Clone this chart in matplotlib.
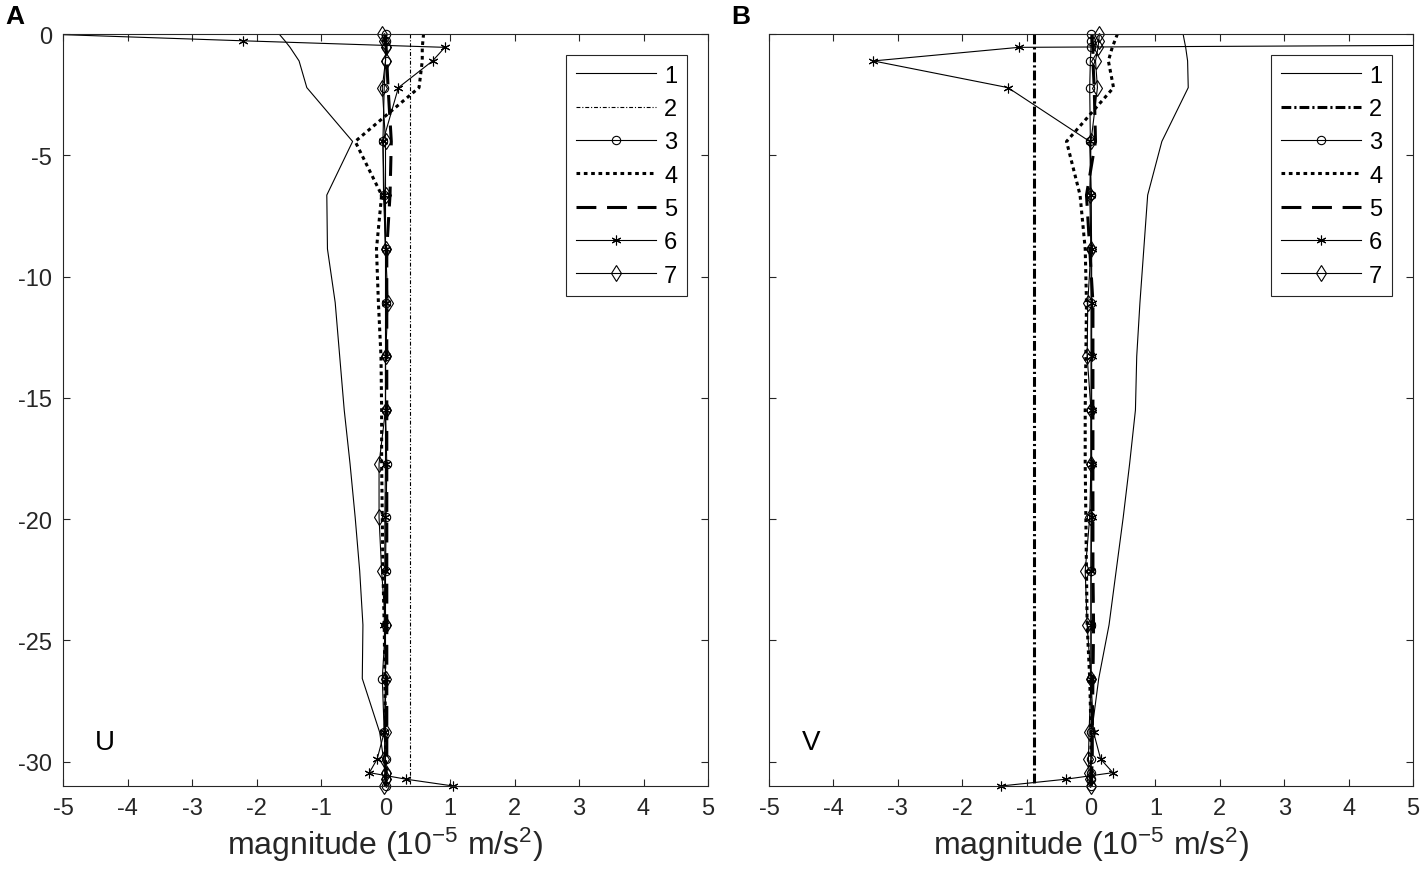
import numpy as np
import matplotlib
matplotlib.use('Agg')
import matplotlib.pyplot as plt
from matplotlib.lines import Line2D

plt.rcParams['font.family'] = ['Liberation Sans', 'DejaVu Sans']
plt.rcParams['mathtext.fontset'] = 'custom'
plt.rcParams['mathtext.rm'] = 'Liberation Sans'
plt.rcParams['mathtext.it'] = 'Liberation Sans'
plt.rcParams['axes.unicode_minus'] = False

INK = '#262626'

# depth levels (m)
depth = [0, -0.28, -0.55, -1.11, -2.21, -4.43, -6.64, -8.86, -11.07, -13.29, -15.5,
         -17.71, -19.93, -22.14, -24.36, -26.57, -28.79, -29.89, -30.45, -30.72, -31.0]

labels = ['1', '2', '3', '4', '5', '6', '7']

# panel A: U momentum terms (1e-5 m/s2)
u1 = [-1.65, -1.56, -1.48, -1.34, -1.22, -0.51, -0.91, -0.90, -0.78, -0.71, -0.64,
      -0.55, -0.47, -0.40, -0.35, -0.36, -0.09, -0.03, -0.01, 0.0, 0.0]
u2 = 0.38
u3 = [0.0, 0.0, 0.01, 0.0, -0.02, -0.04, -0.03, 0.0, 0.01, 0.0, 0.0,
      0.02, 0.01, 0.0, 0.0, -0.05, -0.02, 0.0, 0.0, 0.0, 0.0]
u4 = [0.59, 0.58, 0.57, 0.57, 0.52, -0.47, -0.06, -0.14, -0.11, -0.07, -0.06,
      -0.06, -0.05, -0.04, -0.02, -0.01, 0.0, 0.0, 0.0, 0.0, 0.0]
u5 = [0.0, 0.0, 0.01, 0.02, 0.04, 0.09, 0.07, 0.02, 0.02, 0.02, 0.02,
      0.02, 0.02, 0.02, 0.02, 0.02, 0.02, 0.02, 0.01, 0.01, 0.0]
u6 = [-5.3, -2.21, 0.92, 0.73, 0.20, -0.04, -0.02, 0.0, 0.0, 0.0, 0.0,
      0.0, -0.01, -0.01, -0.02, 0.0, -0.02, -0.13, -0.25, 0.32, 1.05]
u7 = [-0.06, -0.03, 0.0, 0.0, -0.05, 0.0, 0.0, 0.0, 0.04, 0.0, 0.0,
      -0.10, -0.10, -0.06, 0.0, 0.0, 0.0, -0.02, 0.0, 0.0, -0.02]

# panel B: V momentum terms (1e-5 m/s2)
v1 = [1.43, 1.45, 1.47, 1.50, 1.51, 1.10, 0.88, 0.82, 0.76, 0.71, 0.69,
      0.60, 0.50, 0.39, 0.28, 0.12, 0.01, 0.0, 0.0, 0.0, 0.0]
v2 = -0.88
v3 = [0.0, 0.0, 0.0, -0.01, -0.02, -0.01, 0.0, 0.0, 0.0, 0.0, 0.0,
      0.0, 0.0, 0.0, 0.0, 0.0, 0.0, 0.0, 0.0, 0.0, 0.0]
v4 = [0.41, 0.37, 0.33, 0.27, 0.35, -0.38, -0.17, -0.09, -0.07, -0.08, -0.09,
      -0.09, -0.08, -0.07, -0.06, -0.02, 0.0, 0.0, 0.0, 0.0, 0.0]
v5 = [0.02, 0.02, 0.03, 0.03, 0.05, 0.07, -0.07, -0.02, 0.03, 0.03, 0.03,
      0.03, 0.03, 0.03, 0.04, 0.03, 0.02, 0.02, 0.01, 0.01, 0.0]
v6 = [25.0, 20.0, -1.12, -3.38, -1.29, -0.02, 0.0, 0.01, 0.01, 0.01, 0.01,
      0.01, 0.01, 0.0, 0.0, 0.0, 0.04, 0.15, 0.34, -0.39, -1.40]
v7 = [0.13, 0.12, 0.11, 0.07, 0.10, 0.0, -0.02, 0.0, -0.05, -0.06, 0.0,
      0.0, -0.02, -0.09, -0.06, 0.0, -0.03, -0.04, -0.03, -0.02, 0.0]

thin = 0.8
thick = 2.2
mk = dict(mfc='none', mec='k', mew=0.8)
base_styles = [
    dict(ls='-', lw=thin),
    None,  # series 2 differs per panel
    dict(ls='-', lw=thin, marker='o', ms=6, **mk),
    dict(ls=(0, (1.2, 1.2)), lw=thick),
    dict(ls=(0, (6.5, 3.5)), lw=thick),
    dict(ls='-', lw=thin, marker=(6, 2, 0), ms=7, **mk),
    dict(ls='-', lw=thin, marker='d', ms=8, **mk),
]
dd_thin = dict(ls=(0, (3.5, 1.7, 1.0, 1.7)), lw=thin)
dd_thick = dict(ls=(0, (3.2, 1.0, 0.7, 1.0)), lw=thick)


def draw_panel(ax, series, const2, style2, comp):
    y = np.array(depth)
    styles = list(base_styles)
    styles[1] = style2
    handles = []
    for i, st in enumerate(styles):
        if i == 1:
            ax.plot([const2, const2], [depth[0], depth[-1]], color='k', **st)
        else:
            x = np.array(series[i])
            line_st = {k: v for k, v in st.items() if k in ('ls', 'lw')}
            ax.plot(x, y, color='k', **line_st)
            if 'marker' in st:
                # markers at the edges are not cut by the frame
                inside = (x >= -5) & (x <= 5)
                ax.plot(x[inside], y[inside], ls='none', marker=st['marker'],
                        ms=st['ms'], mfc='none', mec='k', mew=0.8, clip_on=False)
        handles.append(Line2D([], [], color='k', **st))

    ax.set_xlim(-5, 5)
    ax.set_ylim(-31, 0)
    ax.set_xticks(range(-5, 6))
    ax.set_yticks([0, -5, -10, -15, -20, -25, -30])
    ax.tick_params(direction='in', top=True, right=True, length=5, width=0.8,
                   labelsize=17, colors=INK, pad=8)
    for sp in ax.spines.values():
        sp.set_color(INK)
        sp.set_linewidth(0.8)
    ax.set_xlabel(r'magnitude (10$^{-5}$ m/s$^{2}$)', fontsize=23, color=INK, labelpad=4)
    ax.text(-4.35, -29.2, comp, fontsize=20, color='k', ha='center', va='center')

    leg = ax.legend(handles, labels, loc='upper right', fontsize=17, numpoints=1,
                    handlelength=3.4, handletextpad=0.35, labelspacing=0.48,
                    borderpad=0.4, borderaxespad=0.9, fancybox=False,
                    framealpha=1, edgecolor=INK)
    leg.get_frame().set_linewidth(0.8)


fig = plt.figure(figsize=(14.26, 8.87), dpi=100)
axA = fig.add_axes([63 / 1426, 1 - 787 / 887, 645 / 1426, 752 / 887])
axB = fig.add_axes([769 / 1426, 1 - 787 / 887, 644 / 1426, 752 / 887])

draw_panel(axA, [u1, None, u3, u4, u5, u6, u7], u2, dd_thin, 'U')
draw_panel(axB, [v1, None, v3, v4, v5, v6, v7], v2, dd_thick, 'V')
axB.tick_params(labelleft=False)

fig.text(15 / 1426, 1 - 17 / 887, 'A', fontsize=19, fontweight='bold', ha='center', va='center')
fig.text(741 / 1426, 1 - 17 / 887, 'B', fontsize=19, fontweight='bold', ha='center', va='center')

fig.savefig('out.png', dpi=100)
